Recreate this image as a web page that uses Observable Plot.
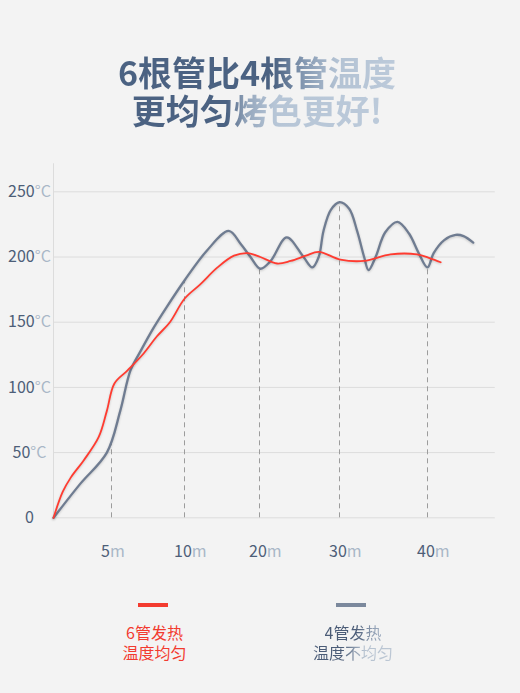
<!DOCTYPE html>
<html>
<head>
<meta charset="utf-8">
<script src="https://cdn.jsdelivr.net/npm/d3@7"></script>
<script src="https://cdn.jsdelivr.net/npm/@observablehq/plot@0.6"></script>
<style>
  html, body { margin:0; padding:0; background:#f3f3f3; }
  body { width:520px; height:693px; position:relative; overflow:hidden; font-family:"Noto Sans CJK SC","Noto Sans",sans-serif; }
  .title { position:absolute; left:0; width:514px; height:34px; text-align:center; font-weight:700; font-size:34px; line-height:34px; white-space:nowrap; }
  .title span, .lg-text span { -webkit-background-clip:text; background-clip:text; color:transparent; }
  .t1 { background:linear-gradient(90deg,#4b6282 0%,#4b6282 56%,#8599b2 67%,#b4c3d4 79%,#bccada 100%); }
  .t2 { background:linear-gradient(90deg,#4b6282 0%,#4b6282 38%,#95a7bd 46%,#b6c5d6 57%,#bccada 100%); }
  #chart { position:absolute; top:150px; left:0; }
  .lg-line { position:absolute; width:30px; height:4px; top:602.5px; }
  .lg-text { position:absolute; width:120px; height:16px; text-align:center; font-size:16px; line-height:16px; white-space:nowrap; }
  .g1 { background:linear-gradient(90deg,#4b5c77 0%,#4b5c77 55%,#8e9db2 85%,#9fadc0 100%); }
  .g2 { background:linear-gradient(90deg,#4b5c77 0%,#4b5c77 36%,#b6c2d0 64%,#bcc7d4 100%); }
</style>
</head>
<body>
<div class="title" style="top:55px"><span class="t1">6根管比4根管温度</span></div>
<div class="title" style="top:93px"><span class="t2">更均匀烤色更好!</span></div>
<div id="chart"></div>
<div class="lg-line" style="left:138px;background:#f33b2f"></div>
<div class="lg-line" style="left:336px;background:#7b889c"></div>
<div class="lg-text" style="left:94.5px;top:623.7px;color:#f23b2f">6管发热</div>
<div class="lg-text" style="left:94.5px;top:643.7px;color:#f23b2f">温度均匀</div>
<div class="lg-text" style="left:293px;top:623.7px"><span class="g1">4管发热</span></div>
<div class="lg-text" style="left:293px;top:643.7px"><span class="g2">温度不均匀</span></div>
<script>
// ---- data ----
const xTicks = [5, 10, 20, 30, 40];
const xTickLabels = ["5m", "10m", "20m", "30m", "40m"];
const dropTo = [58, 182, 191, 242, 192];
const yTicks = [0, 50, 100, 150, 200, 250];
const yTickLabels = ["0", "50°C", "100°C", "150°C", "200°C", "250°C"];

// 6 tubes (red)
const minutes6 = [0, 0.8, 1.5, 2.6, 3.9, 4.6, 5.2, 6.1, 7.2, 8.1, 9.0, 10.0, 12.1, 14.4, 16.6, 18.4, 20.1, 22.2, 23.9, 25.8, 27.4, 30.1, 32.8, 35.8, 38.8, 40.3, 41.5];
const temp6    = [0, 20, 31, 44, 62, 82, 103, 113, 126, 139, 150, 168, 179, 192, 201, 203, 200, 195, 197, 201, 204, 198, 197, 202, 202, 199, 196];

// 4 tubes (gray)
const minutes4 = [0, 2.3, 4.6, 5.6, 6.3, 7.0, 7.9, 8.8, 10.0, 13.0, 15.9, 17.5, 18.8, 20.1, 21.4, 23.4, 25.5, 26.6, 27.4, 28.0, 28.9, 30.0, 31.1, 32.0, 32.8, 33.3, 34.1, 35.2, 36.6, 37.9, 39.0, 40.0, 40.7, 41.9, 43.2, 44.1, 45.2];
const temp4    = [0, 26, 50, 82, 113, 128, 146, 162, 182, 205, 220, 210, 200, 191, 197, 215, 200, 192, 200, 220, 236, 242, 237, 220, 200, 190, 200, 219, 227, 218, 203, 192, 203, 213, 217, 216, 211];

const series6 = minutes6.map((m, i) => ({m, t: temp6[i]}));
const series4 = minutes4.map((m, i) => ({m, t: temp4[i]}));

const chart = Plot.plot({
  width: 520,
  height: 440,
  margin: 0,
  style: {background: "transparent", fontFamily: "'Noto Sans CJK SC','Noto Sans',sans-serif", fontSize: "16px", overflow: "visible"},
  x: {type: "linear", domain: [0, 5, 10, 20, 30, 40], range: [53, 111, 184, 259, 339, 427], axis: null},
  y: {type: "linear", domain: [0, 250], range: [367.3, 41.3], axis: null},
  marks: [
    Plot.ruleY(yTicks, {y: d => d, x1: 0, x2: 47.7, stroke: "#dcdcdc", strokeWidth: 1}),
    Plot.ruleX([0], {x: d => d, y1: 0, y2: 271.5, stroke: "#dcdcdc", strokeWidth: 1}),
    Plot.ruleX(xTicks, {x: d => d, y1: 0, y2: (d, i) => dropTo[i], stroke: "#9c9c9c", strokeWidth: 1, strokeDasharray: "5,4"}),
    Plot.line(series4, {x: "m", y: "t", curve: "catmull-rom", stroke: "#6f7c91", strokeWidth: 2.3}),
    Plot.line(series6, {x: "m", y: "t", curve: "catmull-rom", stroke: "#ff3b30", strokeWidth: 1.8}),
    Plot.text(yTicks, {x: 0, y: d => d, text: (d, i) => yTickLabels[i], dx: -24, textAnchor: "middle", fontSize: 16, fill: "#4d5e78"}),
    Plot.text(xTicks, {x: d => d, y: 0, text: (d, i) => xTickLabels[i], dx: -10.5, dy: 34, textAnchor: "start", fontSize: 16, fill: "#4d5e78"})
  ]
});

// two-tone labels: number dark, unit light
chart.querySelectorAll('g[aria-label="text"] text').forEach(t => {
  const s = t.textContent;
  const m = s.match(/^(\d+)(.*)$/);
  if (m && m[2]) {
    t.textContent = "";
    const ns = "http://www.w3.org/2000/svg";
    const a = document.createElementNS(ns, "tspan");
    a.setAttribute("fill", "#4d5e78");
    a.textContent = m[1];
    const b = document.createElementNS(ns, "tspan");
    b.setAttribute("fill", "#a9b7c7");
    b.textContent = m[2];
    t.appendChild(a); t.appendChild(b);
  }
});
chart.querySelectorAll('g[aria-label="line"] path').forEach(p => {
  p.style.filter = "drop-shadow(0px 1px 1px rgba(0,0,0,0.18))";
});

document.getElementById("chart").appendChild(chart);
</script>
</body>
</html>
